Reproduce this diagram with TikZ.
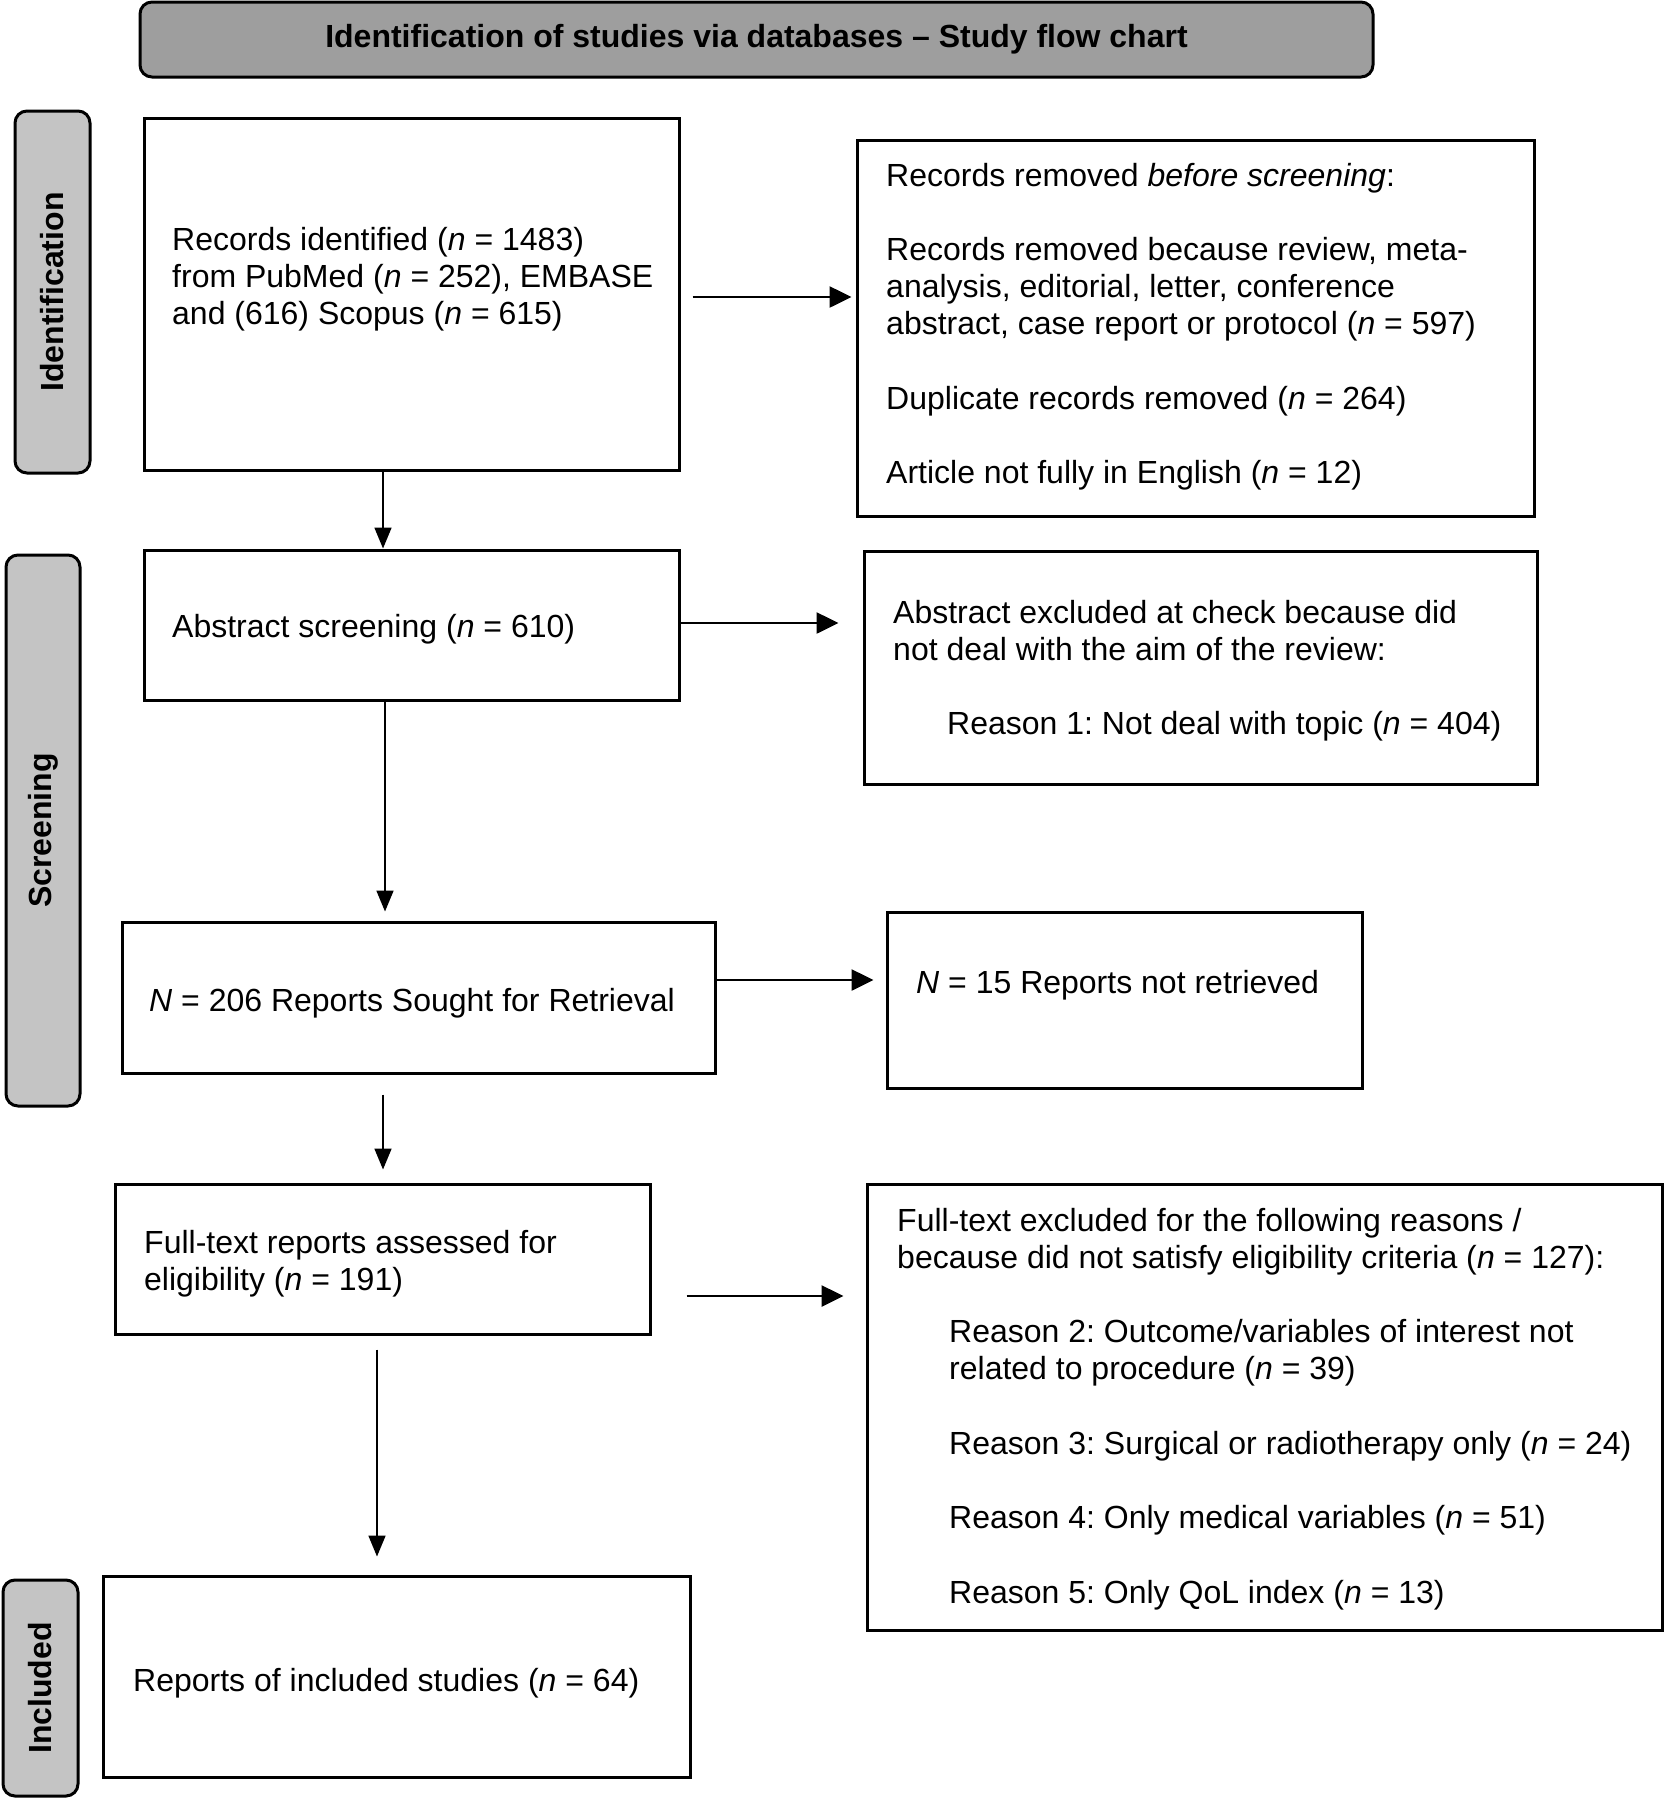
\documentclass[tikz,border=0pt]{standalone}
\usepackage{fontspec}
\setmainfont{Liberation Sans}
\usetikzlibrary{arrows.meta}
\frenchspacing
\definecolor{titlegray}{HTML}{9E9E9E}
\definecolor{sidegray}{HTML}{C4C4C4}
\begin{document}
\begin{tikzpicture}[x=1pt,y=-1pt,
  every node/.style={font=\fontsize{32}{37.2}\selectfont},
  flowbox/.style={draw, line width=3pt, inner sep=0pt, fill=white},
  sidebox/.style={draw, line width=3pt, inner sep=0pt, fill=sidegray, rounded corners=12pt},
  sidetext/.style={font=\fontsize{32}{37.2}\selectfont\bfseries, rotate=90, inner sep=0pt},
  txt/.style={anchor=base west, inner sep=0pt, align=left},
  harr/.style={line width=2.6pt, -{Triangle[length=22pt,width=21pt]}},
  varr/.style={line width=1.8pt, -{Triangle[length=21pt,width=17pt]}}
]
\useasboundingbox (0,0) rectangle (1666,1800);

% title
\node[draw, line width=3pt, fill=titlegray, rounded corners=12pt, minimum width=1233pt, minimum height=75pt, inner sep=0pt,
  font=\fontsize{32}{37.2}\selectfont\bfseries] (title) at (756.5,39.5) {Identification of studies via databases -- Study flow chart};

% side labels
\node[sidebox, minimum width=75pt, minimum height=362pt] (idl) at (52.5,292) {};
\node[sidetext] (idlt) at (idl.center) {Identification};
\node[sidebox, minimum width=74pt, minimum height=551pt] (scl) at (43,830.5) {};
\node[sidetext] (sclt) at (scl.center) {Screening};
\node[sidebox, minimum width=75pt, minimum height=216pt] (inl) at (40.5,1688) {};
\node[sidetext] (inlt) at (inl.center) {Included};

% boxes
\node[flowbox, minimum width=535pt, minimum height=352pt] (rec) at (411.5,294) {};
\node[flowbox, minimum width=677pt, minimum height=376pt] (removed) at (1195.5,328) {};
\node[flowbox, minimum width=535pt, minimum height=150pt] (abs) at (411.5,625) {};
\node[flowbox, minimum width=673pt, minimum height=233pt] (absex) at (1200.5,667.5) {};
\node[flowbox, minimum width=593pt, minimum height=151pt] (sought) at (418.5,997.5) {};
\node[flowbox, minimum width=475pt, minimum height=176pt] (notret) at (1124.5,1000) {};
\node[flowbox, minimum width=535pt, minimum height=150pt] (full) at (382.5,1259) {};
\node[flowbox, minimum width=795pt, minimum height=446pt] (fullex) at (1264.5,1407) {};
\node[flowbox, minimum width=587pt, minimum height=201pt] (incl) at (396.5,1676.5) {};

% texts (anchor = baseline of the last line)
\node[txt] (rect) at (172,324.4) {Records identified (\textit{n} = 1483)\\from PubMed (\textit{n} = 252), EMBASE\\and (616) Scopus (\textit{n} = 615)};
\node[txt] (removedt) at (886,483.6) {Records removed \textit{before screening}:\\[37.2pt]
Records removed because review, meta-\\analysis, editorial, letter, conference\\abstract, case report or protocol (\textit{n} = 597)\\[37.2pt]
Duplicate records removed (\textit{n} = 264)\\[37.2pt]
Article not fully in English (\textit{n} = 12)};
\node[txt] (abst) at (172,637) {Abstract screening (\textit{n} = 610)};
\node[txt] (absext) at (893,734.6) {Abstract excluded at check because did\\not deal with the aim of the review:\\[37.2pt]
\hspace*{54pt}Reason 1: Not deal with topic (\textit{n} = 404)};
\node[txt] (soughtt) at (149,1011) {\textit{N} = 206 Reports Sought for Retrieval};
\node[txt] (notrett) at (916,993) {\textit{N} = 15 Reports not retrieved};
\node[txt] (fullt) at (144,1290.2) {Full-text reports assessed for\\eligibility (\textit{n} = 191)};
\node[txt] (fullext) at (897,1603) {Full-text excluded for the following reasons /\\because did not satisfy eligibility criteria (\textit{n} = 127):\\[37.2pt]
\hspace*{52pt}Reason 2: Outcome/variables of interest not\\\hspace*{52pt}related to procedure (\textit{n} = 39)\\[37.2pt]
\hspace*{52pt}Reason 3: Surgical or radiotherapy only (\textit{n} = 24)\\[37.2pt]
\hspace*{52pt}Reason 4: Only medical variables (\textit{n} = 51)\\[37.2pt]
\hspace*{52pt}Reason 5: Only QoL index (\textit{n} = 13)};
\node[txt] (inclt) at (133,1691) {Reports of included studies (\textit{n} = 64)};

% horizontal arrows
\draw[harr, shorten <=12pt, shorten >=4pt] ([yshift=-3pt]rec.east) -- ([yshift=-3pt]rec.east -| removed.west);
\draw[harr, shorten >=24pt] ([yshift=2pt]abs.east) -- ([yshift=2pt]abs.east -| absex.west);
\draw[harr, shorten >=12pt] ([yshift=17.5pt]sought.east) -- ([yshift=17.5pt]sought.east -| notret.west);
\draw[harr, shorten <=35pt, shorten >=22pt] ([yshift=-37pt]full.east) -- ([yshift=-37pt]full.east -| fullex.west);

% vertical arrows
\draw[varr] ([xshift=-28.5pt]rec.south) -- ([xshift=-28.5pt]rec.south |- abs.north);
\draw[varr, shorten >=9pt] ([xshift=-26.5pt]abs.south) -- ([xshift=-26.5pt]abs.south |- sought.north);
\draw[varr, shorten <=20pt, shorten >=13pt] ([xshift=-35.5pt]sought.south) -- ([xshift=-35.5pt]sought.south |- full.north);
\draw[varr, shorten <=14pt, shorten >=18pt] ([xshift=-5.5pt]full.south) -- ([xshift=-5.5pt]full.south |- incl.north);
\end{tikzpicture}
\end{document}
